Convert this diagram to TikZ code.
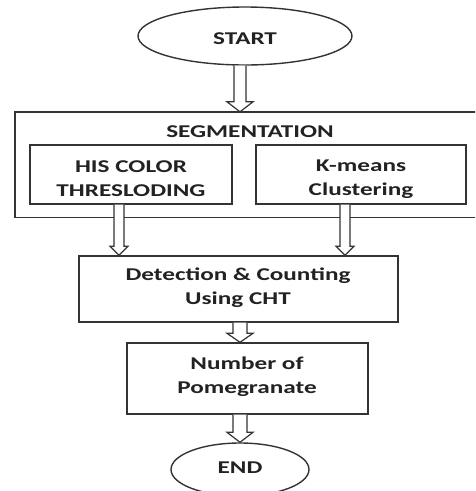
\documentclass[tikz,border=0pt]{standalone}
\usepackage{fontspec}
\setmainfont{Carlito}[FakeStretch=1.4]
\usetikzlibrary{shapes.geometric,calc}

\definecolor{ink}{HTML}{222222}
\definecolor{edge}{HTML}{333333}

\tikzset{
  every node/.style={font=\fontsize{18}{24}\selectfont\bfseries, text=ink},
  box/.style={draw=edge, line width=1.4pt, rectangle, inner sep=0pt, align=center},
  frame/.style={draw=edge, line width=1.4pt},
  terminal/.style={draw=edge, line width=1.4pt, ellipse, inner sep=0pt},
  label/.style={inner sep=0pt, align=center},
  hollow/.style={draw=edge, fill=white, line width=1.2pt, line join=miter},
}

% hollow block arrow: #1 start point, #2 node whose top it points at,
% #3 shaft half width, #4 head half width, #5 head length
\newcommand\blockarrow[5]{%
  \draw[hollow] let \p1=#1, \p2=#2 in
    (\x1-#3,\y1) -- (\x1-#3,\y2+#5) -- (\x1-#4,\y2+#5) -- (\x1,\y2)
    -- (\x1+#4,\y2+#5) -- (\x1+#3,\y2+#5) -- (\x1+#3,\y1);
}

\begin{document}
\begin{tikzpicture}[x=1pt, y=-1pt]
\useasboundingbox (0,0) rectangle (475,491);
\clip (0,0) rectangle (475,491);

% terminals
\node[terminal, minimum width=214pt, minimum height=58pt] (start) at (245,36) {};
\node[label] (starttxt) at (245,39) {START};
\node[terminal, minimum width=138pt, minimum height=53pt] (end) at (240,469.5) {};
\node[label] (endtxt) at (240,468) {END};

% segmentation stage: frame open on the right, running past the margin
\node[rectangle, inner sep=0pt, minimum width=470pt, minimum height=105pt] (seg) at (250,164.5) {};
\draw[frame] (seg.north east) -- (seg.north west) -- (seg.south west) -- (seg.south east);
\node[label] (seglabel) at (250,132) {SEGMENTATION};
\node[box, minimum width=202pt, minimum height=59pt] (his) at (131,174.5) {};
\node[label] (histxt) at (131,179) {HIS COLOR\\THRESLODING};
\node[box, minimum width=210pt, minimum height=59pt] (kmeans) at (361,174.5) {};
\node[label] (kmtxt) at (361,179) {K-means\\Clustering};

% detection and result
\node[box, minimum width=319pt, minimum height=66pt] (detect) at (238.5,289) {};
\node[label] (dettxt) at (238,287.5) {Detection \& Counting\\Using CHT};
\node[box, minimum width=241pt, minimum height=71pt] (count) at (247.5,378.5) {};
\node[label] (cnttxt) at (247,376.5) {Number of\\Pomegranate};

% connectors
\blockarrow{($(start.south)+(-5,0)$)}{(seg.north)}{6pt}{13pt}{10pt}
\blockarrow{($(his.south)+(-12,0)$)}{(detect.north)}{5pt}{9pt}{9pt}
\blockarrow{($(kmeans.south)+(-16,0)$)}{(detect.north)}{5pt}{9pt}{9pt}
\blockarrow{($(detect.south)+(1.5,0)$)}{(count.north)}{7pt}{13pt}{9pt}
\blockarrow{($(count.south)+(-7.5,0)$)}{(end.north)}{7pt}{13pt}{10pt}
\end{tikzpicture}
\end{document}
